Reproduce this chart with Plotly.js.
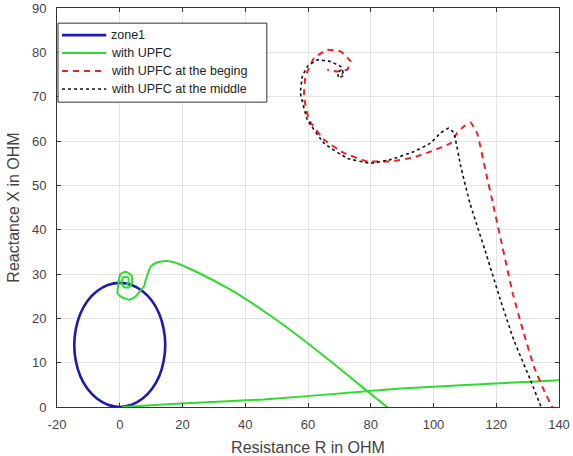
<!DOCTYPE html>
<html>
<head>
<meta charset="utf-8">
<script src="https://cdn.plot.ly/plotly-3.0.1.min.js"></script>
<style>html,body{margin:0;padding:0;background:#fff;}#chart{width:573px;height:456px;}</style>
</head>
<body>
<div id="chart"></div>
<script>
// tick labels
const xTickVals = [-20, 0, 20, 40, 60, 80, 100, 120, 140];
const xTickText = ['-20', '0', '20', '40', '60', '80', '100', '120', '140'];
const yTickVals = [0, 10, 20, 30, 40, 50, 60, 70, 80, 90];
const seriesNames = ['zone1', 'with UPFC', 'with UPFC at the beging', 'with UPFC at the middle'];

// zone1 (mho circle) points
const zoneX = [14.5, 14.0, 12.6, 10.3, 7.3, 3.8, 0, -3.8, -7.3, -10.3, -12.6, -14.0, -14.5, -14.0, -12.6, -10.3, -7.3, -3.8, 0, 3.8, 7.3, 10.3, 12.6, 14.0, 14.5];
const zoneY = [14, 17.6, 21.0, 23.9, 26.1, 27.5, 28, 27.5, 26.1, 23.9, 21.0, 17.6, 14, 10.4, 7.0, 4.1, 1.9, 0.5, 0, 0.5, 1.9, 4.1, 7.0, 10.4, 14];

// with UPFC
const upfcX = [0.8, 19.4, 46, 77.8, 89.5, 131, 146,
  null,
  88, 85.2, 77.8, 67.2, 56.6, 46, 35.4, 24.7, 17.5, 14.1, 11.8, 9.9, 8.3, 7.7, 6.3, 4.8, 2.9, 0.6, -0.7, -0.5, 0.2, 1.9, 3.7, 4, 3, 1.5, 0.5, 1.2, 2.7, 2.8, 2];
const upfcY = [0, 0.8, 1.7, 3.5, 4.2, 5.7, 6.3,
  null,
  -1.7, 0, 4.2, 10.3, 16.2, 21.6, 26.4, 30.4, 32.6, 32.9, 32.6, 31.7, 28.7, 27.2, 26.0, 24.8, 24.2, 24.8, 25.7, 27.5, 30, 30.5, 29.7, 28.3, 27, 27, 28, 29.3, 29.2, 28, 27.6];

// with UPFC at the begining
const begX = [138.5, 137.8, 135.5, 132, 128.8, 125.3, 121.7, 118.9, 117.0, 113.9, 111.8, 109.7, 107.5, 105.4, 99, 93.7, 86.3, 78.9, 71.4, 65.1, 60.3, 58.7, 59.2, 61.9, 66.1, 70.4, 73.6, 72.5, 69.3, 66.1];
const begY = [-1, 0, 3.3, 9.1, 16.6, 25.5, 37, 46, 52, 61.8, 64.2, 63.3, 61.8, 59.5, 57.6, 56.3, 55.4, 55.4, 57.3, 60.3, 64.8, 70, 74.6, 78.7, 80.6, 80.2, 77.9, 76.1, 75.7, 76.1];

// with UPFC at the middle
const midX = [135, 134.3, 130.9, 125.6, 121.3, 116.4, 111.6, 108.7, 106.5, 104.9, 102.2, 99, 93.7, 86.3, 79.9, 72.5, 65.1, 59.8, 57.6, 58.2, 59.8, 63, 67.2, 70.4, 71.4, 69.8, 69.5, 70.6, 71];
const midY = [-1, 0, 6.1, 15.1, 24.2, 35.4, 46, 54.2, 61.8, 62.9, 61.8, 59.5, 57.6, 55.8, 55, 56.1, 59.5, 64.8, 70.8, 74.6, 76.8, 78.3, 77.9, 76.8, 74.9, 74.2, 75.4, 76, 75];

const styles = [
  {color: '#1a1ab4', width: 2.6, dash: 'solid'},
  {color: '#2edc2e', width: 2, dash: 'solid'},
  {color: '#ee2222', width: 2, dash: '6px,5px'},
  {color: '#111111', width: 1.6, dash: 'dot'}
];

const traces = [
  {x: zoneX, y: zoneY, mode: 'lines', name: seriesNames[0], line: Object.assign({shape: 'spline'}, styles[0])},
  {x: upfcX, y: upfcY, mode: 'lines', name: seriesNames[1], line: Object.assign({shape: 'spline', smoothing: 0.5}, styles[1])},
  {x: begX, y: begY, mode: 'lines', name: seriesNames[2], line: Object.assign({shape: 'spline', smoothing: 0.3}, styles[2])},
  {x: midX, y: midY, mode: 'lines', name: seriesNames[3], line: Object.assign({shape: 'spline', smoothing: 0.3}, styles[3])}
];

const fontFam = 'Liberation Sans, Arial, sans-serif';
const axisCommon = {
  showgrid: true, gridcolor: '#e3e3e3', gridwidth: 1,
  showline: true, linecolor: '#333333', linewidth: 1, mirror: 'ticks',
  ticks: 'inside', ticklen: 4, tickcolor: '#333333',
  zeroline: false, automargin: false,
  tickfont: {family: fontFam, size: 13, color: '#444444'}
};

// custom legend box (MATLAB-like compact legend) in paper coordinates
const shapes = [{type: 'rect', xref: 'paper', yref: 'paper', x0: 0.002, x1: 0.418, y0: 0.764, y1: 0.962,
  line: {color: '#333333', width: 1}, fillcolor: '#ffffff', layer: 'above'}];
const annotations = [];
const rowY = [0.932, 0.887, 0.842, 0.797];
seriesNames.forEach((nm, i) => {
  shapes.push({type: 'line', xref: 'paper', yref: 'paper', x0: 0.010, x1: 0.098, y0: rowY[i], y1: rowY[i],
    line: {color: styles[i].color, width: styles[i].width, dash: styles[i].dash}, layer: 'above'});
  annotations.push({xref: 'paper', yref: 'paper', x: 0.104, y: rowY[i], xanchor: 'left', yanchor: 'middle',
    text: nm, showarrow: false, font: {family: fontFam, size: 12.5, color: '#222222'}});
});

const layout = {
  width: 573, height: 456,
  margin: {l: 57, r: 14, t: 8, b: 49},
  paper_bgcolor: '#ffffff', plot_bgcolor: '#ffffff',
  showlegend: false,
  shapes: shapes,
  annotations: annotations,
  xaxis: Object.assign({}, axisCommon, {
    range: [-20, 140], tickmode: 'array', tickvals: xTickVals, ticktext: xTickText,
    ticklabelstandoff: 5,
    title: {text: 'Resistance R in OHM', standoff: 12, font: {family: fontFam, size: 16, color: '#444444'}}
  }),
  yaxis: Object.assign({}, axisCommon, {
    range: [0, 90], tickmode: 'array', tickvals: yTickVals,
    ticklabelstandoff: 7,
    title: {text: 'Reactance X in OHM', standoff: 8, font: {family: fontFam, size: 16, color: '#444444'}}
  })
};

Plotly.newPlot('chart', traces, layout, {staticPlot: true, displayModeBar: false});
</script>
</body>
</html>
